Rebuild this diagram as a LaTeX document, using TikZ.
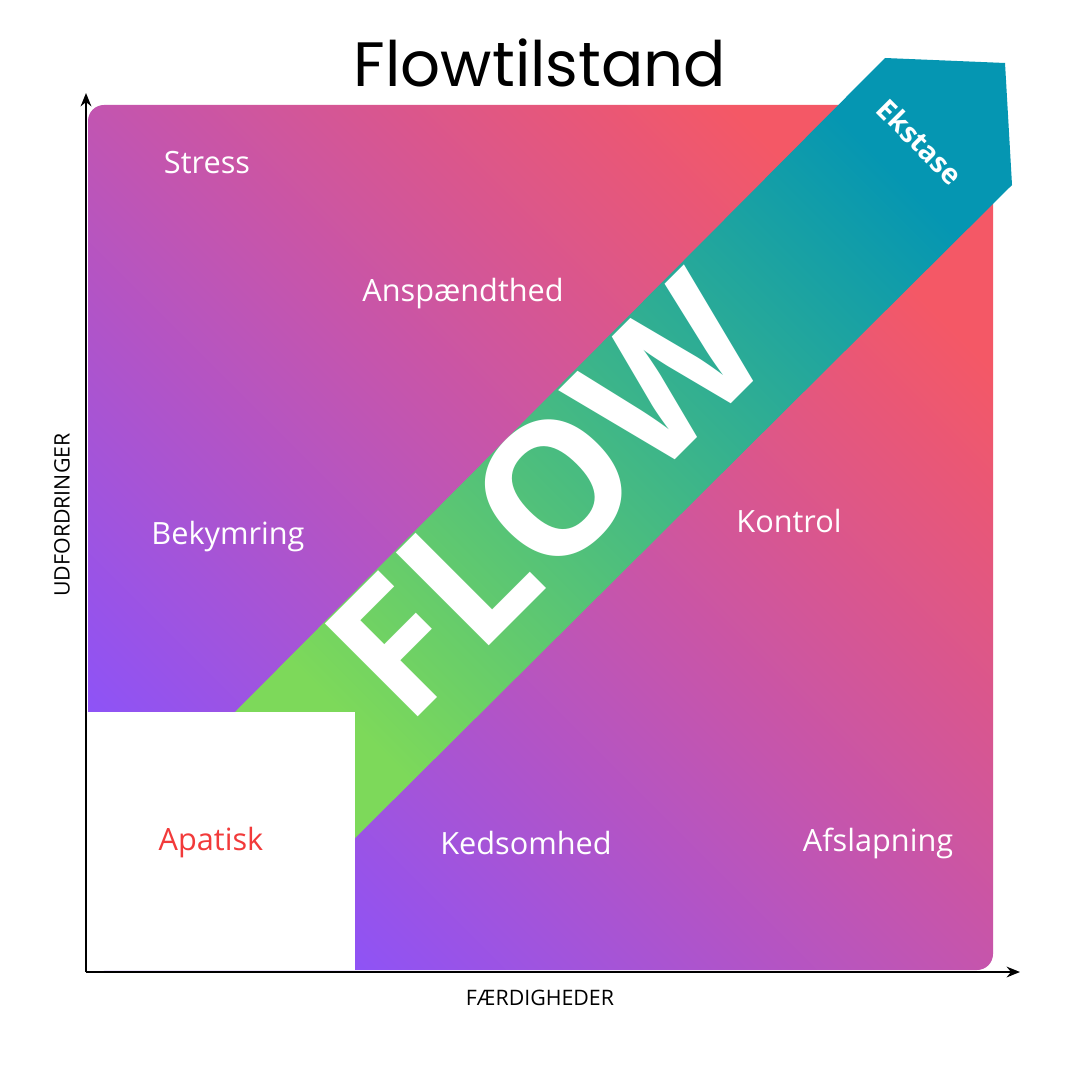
\documentclass[tikz,border=0pt]{standalone}
\usepackage{fontspec}
\setmainfont{Open Sans}
\newfontfamily\titlefont{Poppins}
\usetikzlibrary{arrows.meta}
\definecolor{zonered}{HTML}{F45866}
\definecolor{zonemid}{HTML}{C455AE}
\definecolor{zonepurple}{HTML}{8E53F6}
\definecolor{flowgreen}{HTML}{7DD95A}
\definecolor{flowteal}{HTML}{0596B2}
\definecolor{apatred}{HTML}{F23A3A}
\tikzset{
    zone label/.style = {
        text = white,
        font = \fontsize{23}{27}\selectfont,
        },
    axis label/.style = {
        font = \fontsize{16}{19}\selectfont,
        },
    axis/.style = {
        line width=2pt,
        -{Stealth[length=10pt,width=8pt]},
        },
}
\begin{document}
\begin{tikzpicture}[x=0.75pt,y=-0.75pt]
    \useasboundingbox (0,0) rectangle (1080,1080);
    \fill[white] (0,0) rectangle (1080,1080);

    % gradient field
    \shade[rounded corners=12pt, left color=zonered, right color=zonepurple,
        middle color=zonemid, shading angle=-45]
        (88,105) rectangle (993,970);

    % flow band
    \shade[left color=flowteal, right color=flowgreen, shading angle=-45]
        (235,712) -- (885,58) -- (1005,63) -- (1012,185) -- (355,838) -- (355,712) -- cycle;

    % bottom-left box
    \fill[white] (86,712) rectangle (355,970);

    % axes
    \coordinate (origin) at (86,972);
    \coordinate (ytop) at (86,93);
    \coordinate (xend) at (1020,972);
    \draw[axis] (origin) -- (ytop);
    \draw[axis] (origin) -- (xend);

    \node[font=\titlefont\fontsize{47}{50}\selectfont] (title) at (540,63) {Flowtilstand};

    \node[zone label] (stress) at (207,163) {Stress};
    \node[zone label] (tension) at (463,294) {Anspændthed};
    \node[zone label] (worry) at (228,537) {Bekymring};
    \node[zone label] (control) at (789,521) {Kontrol};
    \node[zone label, text=apatred] (apathy) at (211,843) {Apatisk};
    \node[zone label] (boredom) at (526,843) {Kedsomhed};
    \node[zone label] (relax) at (878,843) {Afslapning};

    \node[text=white, rotate=45, font=\bfseries\fontsize{138}{144}\selectfont] (flow) at (545,497) {FLOW};
    \node[text=white, rotate=-45, font=\bfseries\fontsize{21}{24}\selectfont] (ecstasy) at (920,142) {Ekstase};

    \node[axis label, rotate=90] (ylabel) at (62,515) {UDFORDRINGER};
    \node[axis label] (xlabel) at (540,998) {FÆRDIGHEDER};
\end{tikzpicture}
\end{document}
